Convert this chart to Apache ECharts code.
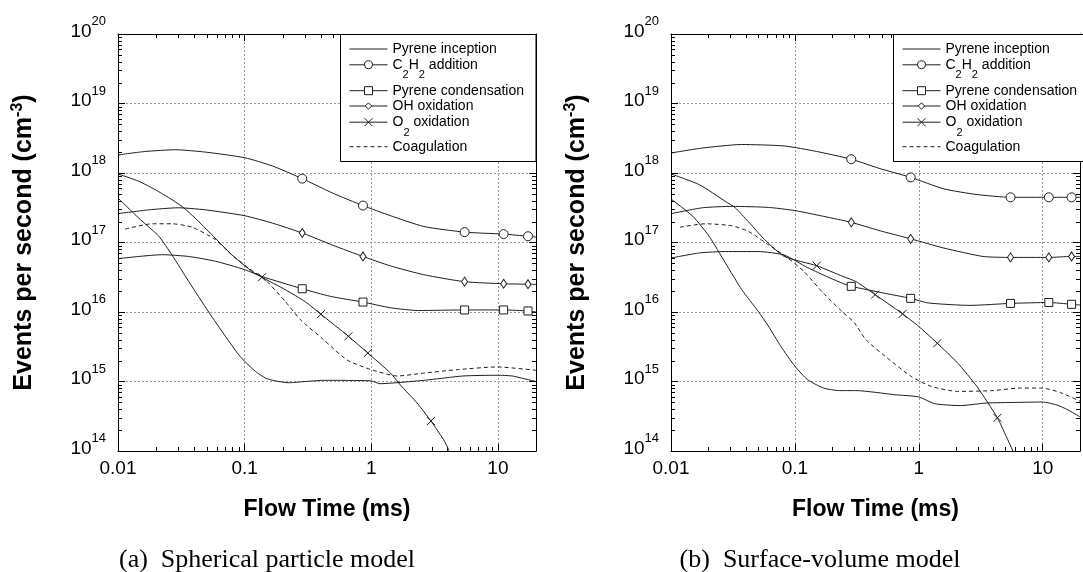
<!DOCTYPE html>
<html><head><meta charset="utf-8">
<script src="https://cdn.jsdelivr.net/npm/echarts@6/dist/echarts.min.js"></script>
<style>html,body{margin:0;padding:0;background:#fff}#c{width:1083px;height:572px}</style>
</head><body><div id="c"></div>
<script>
// ---------------- tick labels ----------------
const xTickValues = [0.01, 0.1, 1, 10];
const xTickLabels = ['0.01', '0.1', '1', '10'];
const yTickExponents = [14, 15, 16, 17, 18, 19, 20];
const minorMultipliers = [2, 3, 4, 5, 6, 7, 8, 9];
const xDecades = [0.01, 0.1, 1, 10];
const yDecades = [1e14, 1e15, 1e16, 1e17, 1e18, 1e19];

// ---------------- names ----------------
const seriesNames = ['Pyrene inception', 'C2H2 addition', 'Pyrene condensation', 'OH oxidation', 'O2 oxidation', 'Coagulation'];
const captions = ['(a)  Spherical particle model', '(b)  Surface-volume model'];

// ---------------- panel (a): spherical particle model ----------------
const a_markX = [0.285, 0.86, 5.46, 11.1, 17.3];
const a_o2MarkX = [0.137, 0.40, 0.66, 0.94, 2.96];

const a_inc_x = [0.01, 0.0146, 0.021, 0.0267, 0.0362, 0.052, 0.0705, 0.0897, 0.1, 0.1216, 0.146, 0.175, 0.223, 0.302, 0.42, 1.0, 1.17, 2.6, 5.3, 9.86, 13, 16, 20];
const a_inc_y = [4.37e17, 2.24e17, 1.23e17, 6.6e16, 2.75e16, 1.0e16, 4.47e15, 2.43e15, 1.95e15, 1.4e15, 1.12e15, 1.02e15, 9.6e14, 1.0e15, 1.04e15, 1.02e15, 9.3e14, 1.04e15, 1.2e15, 1.23e15, 1.2e15, 1.1e15, 1.0e15];

const a_c2h2_x = [0.01, 0.0164, 0.0284, 0.049, 0.1, 0.166, 0.285, 0.5, 0.86, 1.42, 2.6, 5.46, 11.1, 17.3, 20];
const a_c2h2_y = [1.82e18, 2.04e18, 2.16e18, 2.0e18, 1.66e18, 1.26e18, 8.3e17, 5.1e17, 3.4e17, 2.43e17, 1.7e17, 1.41e17, 1.32e17, 1.23e17, 1.2e17];

const a_cond_x = [0.01, 0.0146, 0.0223, 0.036, 0.059, 0.1, 0.137, 0.285, 0.475, 0.86, 1.42, 2.36, 5.46, 11.1, 17.3, 20];
const a_cond_y = [5.85e16, 6.3e16, 6.67e16, 6.3e16, 5.37e16, 4.07e16, 3.24e16, 2.16e16, 1.68e16, 1.39e16, 1.15e16, 1.05e16, 1.07e16, 1.07e16, 1.035e16, 1.0e16];

const a_oh_x = [0.01, 0.0175, 0.03, 0.049, 0.1, 0.166, 0.285, 0.5, 0.86, 1.42, 2.6, 5.46, 11.1, 17.3, 20];
const a_oh_y = [2.6e17, 2.95e17, 3.16e17, 2.95e17, 2.43e17, 1.9e17, 1.37e17, 9.1e16, 6.3e16, 4.6e16, 3.44e16, 2.73e16, 2.55e16, 2.51e16, 2.5e16];

const a_o2_x = [0.01, 0.0146, 0.0197, 0.0267, 0.033, 0.0407, 0.0552, 0.0795, 0.114, 0.137, 0.21, 0.30, 0.40, 0.66, 0.94, 1.42, 1.7, 2.3, 2.96, 3.73, 4.08, 4.3];
const a_o2_y = [9.7e17, 7.6e17, 5.75e17, 4.13e17, 3.16e17, 2.24e17, 1.29e17, 6.6e16, 3.84e16, 3.16e16, 2.09e16, 1.41e16, 9.3e15, 4.47e15, 2.57e15, 1.32e15, 8.9e14, 4.9e14, 2.7e14, 1.45e14, 1.05e14, 8e13];

const a_coag_x = [0.0114, 0.0186, 0.0267, 0.0385, 0.0588, 0.0795, 0.1077, 0.146, 0.21, 0.275, 0.42, 0.644, 1.0, 1.6, 2.6, 4.76, 9.86, 20];
const a_coag_y = [1.56e17, 1.86e17, 1.86e17, 1.66e17, 1.1e17, 6.6e16, 4.27e16, 2.88e16, 1.41e16, 7.8e15, 4.0e15, 2.04e15, 1.48e15, 1.2e15, 1.32e15, 1.48e15, 1.62e15, 1.45e15];

// ---------------- panel (b): surface-volume model ----------------
const b_markX = [0.285, 0.86, 5.5, 11.2, 17.1];
const b_o2MarkX = [0.15, 0.444, 0.74, 1.41, 4.31];

const b_inc_x = [0.01, 0.015, 0.0203, 0.0275, 0.0373, 0.0506, 0.061, 0.077, 0.1, 0.126, 0.17, 0.23, 0.31, 0.645, 1.0, 1.34, 2.17, 3.5, 6.1, 9.9, 13, 16, 20];
const b_inc_y = [4.23e17, 2.38e17, 1.23e17, 5.07e16, 2.09e16, 1.02e16, 6.3e15, 3.2e15, 1.66e15, 1.07e15, 8.05e14, 7.4e14, 7.4e14, 6.45e14, 6.0e14, 4.8e14, 4.5e14, 4.9e14, 5.0e14, 5.07e14, 4.6e14, 3.9e14, 3.1e14];

const b_c2h2_x = [0.01, 0.018, 0.037, 0.082, 0.15, 0.285, 0.476, 0.86, 1.6, 2.94, 5.5, 11.2, 17.1, 20];
const b_c2h2_y = [1.94e18, 2.29e18, 2.57e18, 2.45e18, 2.04e18, 1.58e18, 1.17e18, 8.65e17, 5.9e17, 4.9e17, 4.47e17, 4.47e17, 4.47e17, 4.47e17];

const b_cond_x = [0.01, 0.017, 0.0275, 0.0506, 0.082, 0.126, 0.192, 0.245, 0.285, 0.5, 0.86, 1.19, 2.6, 5.5, 11.2, 17.1, 20];
const b_cond_y = [5.98e16, 7.08e16, 7.41e16, 7.41e16, 6.6e16, 4.37e16, 3.09e16, 2.57e16, 2.34e16, 1.9e16, 1.57e16, 1.35e16, 1.245e16, 1.33e16, 1.37e16, 1.29e16, 1.26e16];

const b_oh_x = [0.01, 0.018, 0.031, 0.061, 0.1, 0.17, 0.285, 0.476, 0.86, 1.6, 3.3, 5.5, 11.2, 17.1, 20];
const b_oh_y = [2.6e17, 3.16e17, 3.31e17, 3.2e17, 2.88e17, 2.38e17, 1.95e17, 1.49e17, 1.13e17, 8.3e16, 6.3e16, 6.1e16, 6.1e16, 6.3e16, 6.3e16];

const b_o2_x = [0.01, 0.017, 0.0275, 0.033, 0.042, 0.057, 0.082, 0.15, 0.245, 0.31, 0.444, 0.74, 1.0, 1.41, 2.05, 2.94, 4.31, 5.08, 5.74, 6.2];
const b_o2_y = [9.7e17, 6.76e17, 3.9e17, 3.16e17, 2.0e17, 1.1e17, 6.3e16, 4.63e16, 3.24e16, 2.75e16, 1.78e16, 9.4e15, 6.2e15, 3.55e15, 1.86e15, 8.5e14, 3.0e14, 1.62e14, 1.0e14, 7e13];

const b_coag_x = [0.0118, 0.019, 0.031, 0.042, 0.061, 0.0873, 0.118, 0.17, 0.245, 0.30, 0.374, 0.538, 0.875, 1.26, 2.05, 3.98, 6.5, 9.9, 14, 20];
const b_coag_y = [1.66e17, 1.86e17, 1.74e17, 1.45e17, 9.3e16, 6.0e16, 3.84e16, 1.86e16, 9.8e15, 7.1e15, 4.0e15, 2.29e15, 1.17e15, 8.5e14, 7.2e14, 7.4e14, 8.05e14, 8.05e14, 6.9e14, 5.2e14];

// ---------------- styling / layout ----------------
const FONT = '"Liberation Sans", Arial, sans-serif';
const INK = '#1e1e1e';
const grids = [
  { left: 118, top: 34, width: 418, height: 417 },
  { left: 671, top: 34, width: 418, height: 417 }
];
const CROSS = 'path://M0,0L10,10M10,0L0,10';
const symbolStyles = {
  'C2H2 addition': { symbol: 'circle', size: 9 },
  'Pyrene condensation': { symbol: 'rect', size: 8 },
  'OH oxidation': { symbol: 'diamond', size: [6, 9] },
  'O2 oxidation': { symbol: CROSS, size: 8 }
};

function xAxisFor(gi, pos, main) {
  return {
    type: 'log', logBase: 10, gridIndex: gi, position: pos, min: 0.01, max: 20,
    axisLine: { show: true, onZero: false, lineStyle: { color: '#000', width: 1 } },
    axisTick: { show: true, inside: true, length: 7, lineStyle: { color: '#000', width: 1 } },
    axisLabel: {
      show: main, margin: 8, color: '#000', fontSize: 19, fontFamily: FONT,
      showMinLabel: true, showMaxLabel: true,
      formatter: function (v) {
        const lg = Math.log10(v), e = Math.round(lg);
        if (Math.abs(lg - e) > 1e-6) return '';
        const i = xTickValues.findIndex(t => Math.abs(Math.log10(t) - e) < 1e-6);
        return i >= 0 ? xTickLabels[i] : '';
      }
    },
    splitLine: { show: main, lineStyle: { color: '#9a9a9a', width: 1, type: [2, 2] } },
    name: main ? 'Flow Time (ms)' : '', nameLocation: 'middle', nameGap: 47,
    nameTextStyle: { fontSize: 23, fontWeight: 'bold', fontFamily: FONT, color: '#000' }
  };
}
function yAxisFor(gi, pos, main) {
  return {
    type: 'log', logBase: 10, gridIndex: gi, position: pos, min: 1e14, max: 1e20,
    axisLine: { show: true, onZero: false, lineStyle: { color: '#000', width: 1 } },
    axisTick: { show: true, inside: true, length: 7, lineStyle: { color: '#000', width: 1 } },
    axisLabel: {
      show: main, margin: 12, color: '#000', fontFamily: FONT,
      showMinLabel: true, showMaxLabel: true,
      formatter: function (v) {
        const e = Math.round(Math.log10(v));
        if (yTickExponents.indexOf(e) < 0) return '';
        return '{b|10}{p|' + e + '}';
      },
      rich: {
        b: { fontSize: 19, fontFamily: FONT, color: '#000', padding: [0, 0, 5, 0] },
        p: { fontSize: 13, fontFamily: FONT, color: '#000', padding: [0, 0, 25, 0] }
      }
    },
    splitLine: { show: main, lineStyle: { color: '#9a9a9a', width: 1, type: [2, 2] } },
    name: main ? '{t|Events per second (cm}{s|-3}{t|)}' : '', nameLocation: 'middle', nameGap: 79,
    nameTextStyle: {
      rich: {
        t: { fontSize: 25, fontWeight: 'bold', fontFamily: FONT, color: '#000' },
        s: { fontSize: 16, fontWeight: 'bold', fontFamily: FONT, color: '#000', padding: [0, 0, 13, 0] }
      }
    }
  };
}

function lineSeries(gi, name, xs, ys, marks, dashed) {
  const st = symbolStyles[name];
  return {
    type: 'line', name: name, xAxisIndex: gi * 2, yAxisIndex: gi * 2,
    data: xs.map(function (x, i) {
      const o = { value: [x, ys[i]] };
      if (!marks || marks.indexOf(x) < 0) o.symbol = 'none';
      return o;
    }),
    symbol: st ? st.symbol : 'none', symbolSize: st ? st.size : 6,
    showSymbol: true, smooth: 0.2, clip: true, z: 2,
    lineStyle: { color: INK, width: 1, type: dashed ? [4, 3] : 'solid' },
    itemStyle: { color: st && st.symbol === CROSS ? 'none' : '#fff', borderColor: INK, borderWidth: 1 },
    emphasis: { disabled: true }, silent: true
  };
}

function minorTicks(gi, axis) {
  const vals = [];
  if (axis === 'x') xDecades.forEach(d => minorMultipliers.forEach(m => { if (d * m < 20) vals.push(d * m); }));
  else yDecades.forEach(d => minorMultipliers.forEach(m => vals.push(d * m)));
  return {
    type: 'custom', xAxisIndex: gi * 2, yAxisIndex: gi * 2, silent: true, z: 1, clip: false,
    data: vals.map(v => axis === 'x' ? [v, 1e17] : [1, v]),
    renderItem: function (params, api) {
      const cs = params.coordSys;
      const p = api.coord([api.value(0), api.value(1)]);
      const L = 4, st = { stroke: '#000', lineWidth: 1 };
      if (axis === 'x') {
        const x = Math.round(p[0]) + 0.5, b = cs.y + cs.height, t = cs.y;
        return { type: 'group', children: [
          { type: 'line', shape: { x1: x, y1: b, x2: x, y2: b - L }, style: st },
          { type: 'line', shape: { x1: x, y1: t, x2: x, y2: t + L }, style: st }
        ] };
      }
      const y = Math.round(p[1]) + 0.5, l = cs.x, r = cs.x + cs.width;
      return { type: 'group', children: [
        { type: 'line', shape: { x1: l, y1: y, x2: l + L, y2: y }, style: st },
        { type: 'line', shape: { x1: r, y1: y, x2: r - L, y2: y }, style: st }
      ] };
    }
  };
}

const panels = [
  { inc: [a_inc_x, a_inc_y], c2h2: [a_c2h2_x, a_c2h2_y], cond: [a_cond_x, a_cond_y], oh: [a_oh_x, a_oh_y], o2: [a_o2_x, a_o2_y], coag: [a_coag_x, a_coag_y], mk: a_markX, o2mk: a_o2MarkX },
  { inc: [b_inc_x, b_inc_y], c2h2: [b_c2h2_x, b_c2h2_y], cond: [b_cond_x, b_cond_y], oh: [b_oh_x, b_oh_y], o2: [b_o2_x, b_o2_y], coag: [b_coag_x, b_coag_y], mk: b_markX, o2mk: b_o2MarkX }
];

const xAxes = [], yAxes = [], series = [];
panels.forEach(function (P, gi) {
  xAxes.push(xAxisFor(gi, 'bottom', true), xAxisFor(gi, 'top', false));
  yAxes.push(yAxisFor(gi, 'left', true), yAxisFor(gi, 'right', false));
  series.push(
    lineSeries(gi, seriesNames[0], P.inc[0], P.inc[1], null, false),
    lineSeries(gi, seriesNames[1], P.c2h2[0], P.c2h2[1], P.mk, false),
    lineSeries(gi, seriesNames[2], P.cond[0], P.cond[1], P.mk, false),
    lineSeries(gi, seriesNames[3], P.oh[0], P.oh[1], P.mk, false),
    lineSeries(gi, seriesNames[4], P.o2[0], P.o2[1], P.o2mk, false),
    lineSeries(gi, seriesNames[5], P.coag[0], P.coag[1], null, true),
    minorTicks(gi, 'x'), minorTicks(gi, 'y')
  );
});

// legend rows (one legend per row so the uneven spacing can be reproduced)
const legendRows = [
  { name: seriesNames[0], top: 42, h: 10, noSymbol: true },
  { name: seriesNames[1], top: 57.8, h: 10, fmt: '{m|C}{s|2}{m|H}{s|2}{m| addition}' },
  { name: seriesNames[2], top: 83.7, h: 10 },
  { name: seriesNames[3], top: 99, h: 8 },
  { name: seriesNames[4], top: 115.2, h: 10, fmt: '{m|O}{s|2}{m| oxidation}', cross: true },
  { name: seriesNames[5], top: 139.7, h: 10, noSymbol: true }
];
const legendLefts = [349, 902];
const legends = [];
legendLefts.forEach(function (lx) {
  legendRows.forEach(function (r) {
    const lg = {
      data: [r.name], left: lx, top: r.top, orient: 'vertical', padding: 0,
      itemWidth: 38, itemHeight: r.h, selectedMode: false,
      lineStyle: { color: INK, width: 1 },
      itemStyle: { color: r.cross ? 'none' : '#fff', borderColor: INK, borderWidth: 1 },
      textStyle: {
        fontSize: 14, fontFamily: FONT, color: '#000',
        rich: {
          m: { fontSize: 14, fontFamily: FONT, color: '#000' },
          s: { fontSize: 11, fontFamily: FONT, color: '#000', padding: [21, 0, 0, 0] }
        }
      }
    };
    if (r.fmt) lg.formatter = function () { return r.fmt; };
    if (r.noSymbol) lg.itemStyle = { color: 'transparent', borderColor: 'transparent', borderWidth: 0, opacity: 0 };
    legends.push(lg);
  });
});

const option = {
  animation: false,
  backgroundColor: '#fff',
  grid: grids,
  xAxis: xAxes,
  yAxis: yAxes,
  legend: legends,
  series: series,
  graphic: [
    { type: 'rect', z: 3, shape: { x: 340.5, y: 34.5, width: 195.5, height: 127 }, style: { fill: '#fff', stroke: '#000', lineWidth: 1 } },
    { type: 'rect', z: 3, shape: { x: 893.5, y: 34.5, width: 200, height: 127 }, style: { fill: '#fff', stroke: '#000', lineWidth: 1 } },
    { type: 'text', z: 3, x: 267, y: 560, style: { text: captions[0], font: '26px "Liberation Serif", "Times New Roman", serif', fill: '#000', textAlign: 'center', textVerticalAlign: 'middle' } },
    { type: 'text', z: 3, x: 820, y: 560, style: { text: captions[1], font: '26px "Liberation Serif", "Times New Roman", serif', fill: '#000', textAlign: 'center', textVerticalAlign: 'middle' } }
  ]
};

const chart = echarts.init(document.getElementById('c'), null, { renderer: 'canvas', width: 1083, height: 572 });
chart.setOption(option);
</script>
</body></html>
